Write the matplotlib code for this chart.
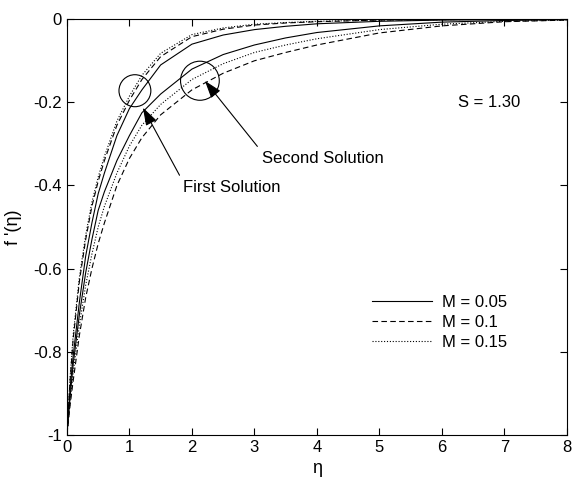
import matplotlib
matplotlib.use('Agg')
import matplotlib.pyplot as plt
from matplotlib.patches import Ellipse

plt.rcParams['font.family'] = ['Liberation Sans Narrow', 'Liberation Sans', 'DejaVu Sans']

# eta grid shared by all curves
eta = [0, 0.05, 0.1, 0.2, 0.3, 0.4, 0.5, 0.6, 0.8, 1.0, 1.2, 1.5, 2.0, 2.5, 3.0, 3.5, 4, 5, 6, 7, 8]

# first solutions
first_m005 = [-1, -0.89, -0.81, -0.68, -0.57, -0.49, -0.42, -0.37, -0.28, -0.215, -0.17, -0.11,
              -0.06, -0.038, -0.025, -0.017, -0.011, -0.005, -0.002, -0.001, 0]
first_m010 = [-1, -0.87, -0.77, -0.63, -0.53, -0.45, -0.39, -0.34, -0.255, -0.195, -0.145, -0.09,
              -0.042, -0.024, -0.014, -0.009, -0.006, -0.002, -0.001, 0, 0]
first_m015 = [-1, -0.865, -0.76, -0.62, -0.52, -0.44, -0.38, -0.33, -0.245, -0.185, -0.135, -0.082,
              -0.037, -0.021, -0.012, -0.008, -0.005, -0.002, -0.001, 0, 0]

# second solutions
second_m005 = [-1, -0.91, -0.83, -0.71, -0.61, -0.53, -0.46, -0.415, -0.34, -0.28, -0.225, -0.18,
               -0.12, -0.085, -0.062, -0.045, -0.032, -0.016, -0.007, -0.003, -0.001]
second_m010 = [-1, -0.93, -0.87, -0.76, -0.67, -0.6, -0.54, -0.49, -0.4, -0.335, -0.285, -0.23,
               -0.17, -0.13, -0.1, -0.08, -0.062, -0.033, -0.016, -0.006, -0.002]
second_m015 = [-1, -0.92, -0.85, -0.735, -0.64, -0.565, -0.5, -0.45, -0.37, -0.305, -0.255, -0.205,
               -0.145, -0.107, -0.08, -0.062, -0.047, -0.025, -0.012, -0.005, -0.002]

x_ticks = [0, 1, 2, 3, 4, 5, 6, 7, 8]
y_ticks = [-1, -0.8, -0.6, -0.4, -0.2, 0]
y_tick_labels = ['-1', '-0.8', '-0.6', '-0.4', '-0.2', '0']
legend_labels = ['M = 0.05', 'M = 0.1', 'M = 0.15']


def main():
  fig = plt.figure(figsize=(5.72, 4.93), dpi=100)
  ax = fig.add_axes([0.117, 0.118, 0.874, 0.843])

  lw = 0.8
  dash = (0, (5, 3))
  dot = (0, (1, 1.6))

  h1, = ax.plot(eta, first_m005, color='k', lw=lw, ls='-')
  h2, = ax.plot(eta, first_m010, color='k', lw=lw, ls=dash)
  h3, = ax.plot(eta, first_m015, color='k', lw=lw, ls=dot)
  ax.plot(eta, second_m005, color='k', lw=lw, ls='-')
  ax.plot(eta, second_m010, color='k', lw=lw, ls=dash)
  ax.plot(eta, second_m015, color='k', lw=lw, ls=dot)

  # circles around the two solution branches
  ax.add_patch(Ellipse((1.088, -0.172), 0.51, 0.077, fill=False, lw=0.8, color='k'))
  ax.add_patch(Ellipse((2.128, -0.148), 0.62, 0.094, fill=False, lw=0.8, color='k'))

  arrow = dict(arrowstyle='-|>,head_length=0.9,head_width=0.3', color='k', lw=0.8)
  ax.annotate('First Solution', xy=(1.195, -0.207), xytext=(1.86, -0.406),
              fontsize=12, va='center', ha='left',
              arrowprops=dict(arrow, relpos=(0, 0.9)))
  ax.annotate('Second Solution', xy=(2.18, -0.143), xytext=(3.12, -0.334),
              fontsize=12, va='center', ha='left',
              arrowprops=dict(arrow, relpos=(0, 0.9)))
  ax.text(6.26, -0.2, 'S = 1.30', fontsize=12, va='center', ha='left')

  ax.legend([h1, h2, h3], legend_labels, loc='upper left', bbox_to_anchor=(0.597, 0.352),
            borderaxespad=0, frameon=False, fontsize=12, handlelength=3.6,
            labelspacing=0.3, handletextpad=0.6)

  ax.set_xlim(0, 8)
  ax.set_ylim(-1, 0)
  ax.set_xticks(x_ticks)
  ax.set_yticks(y_ticks)
  ax.set_yticklabels(y_tick_labels)
  ax.tick_params(direction='in', top=True, right=True, length=5, labelsize=12, width=0.8)
  for sp in ax.spines.values():
    sp.set_linewidth(0.8)

  ax.set_xlabel('\u03b7', fontsize=13)
  ax.set_ylabel("f '(\u03b7)", fontsize=13, labelpad=8)

  fig.savefig('out.png', dpi=100)


if __name__ == '__main__':
  main()
